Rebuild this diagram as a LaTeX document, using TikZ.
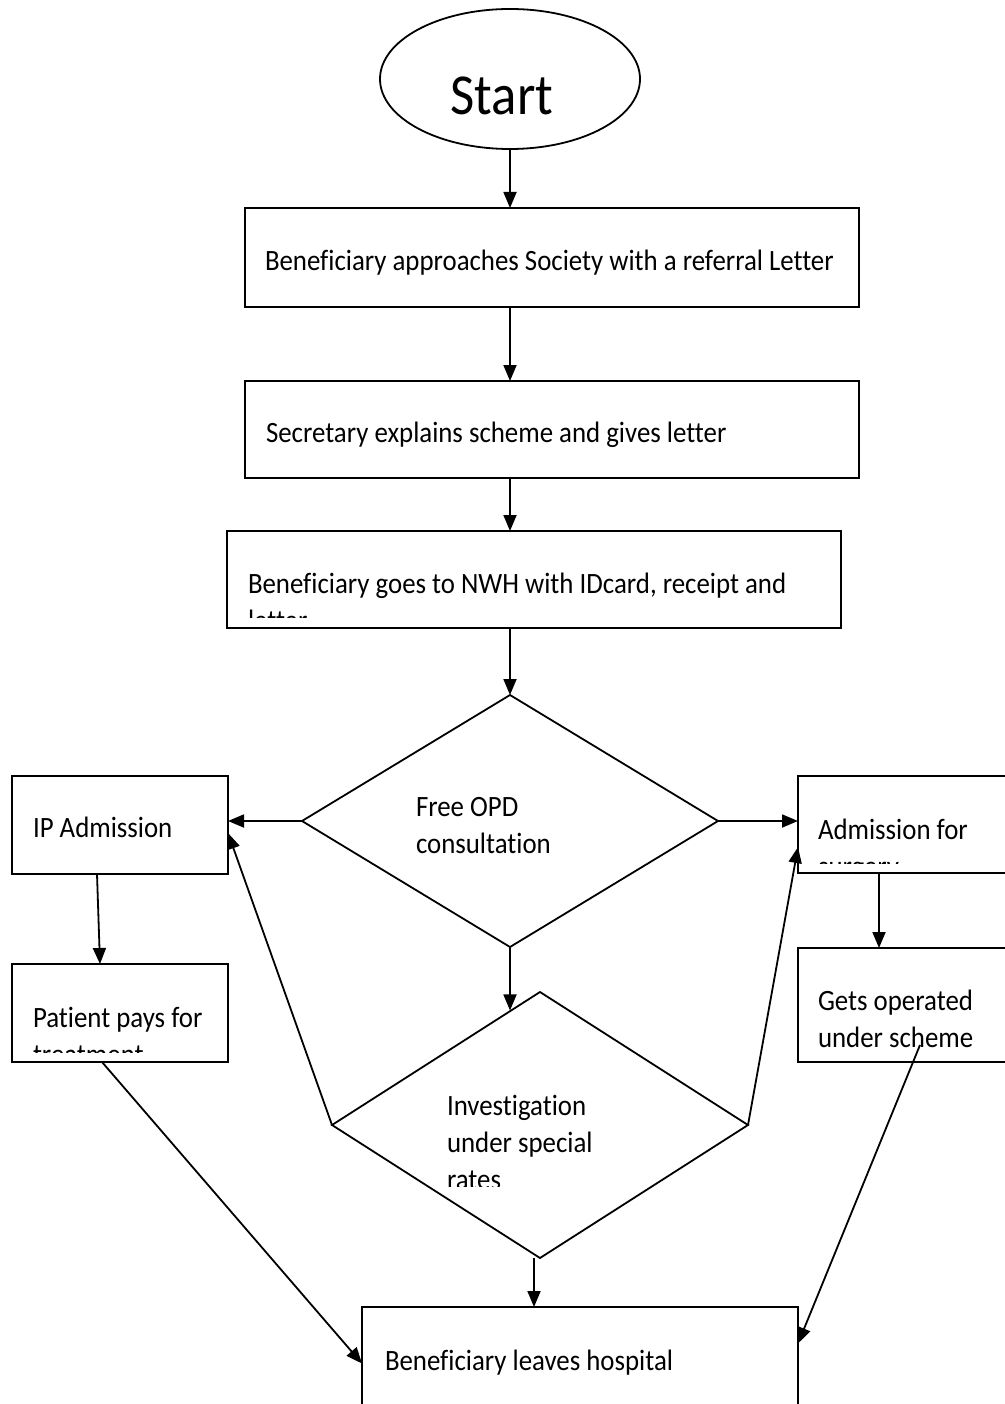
\documentclass[tikz,border=0pt]{standalone}
\usepackage{fontspec}
\setmainfont{Carlito}[FakeStretch=0.91, Ligatures=NoCommon]
\usetikzlibrary{shapes.geometric,arrows.meta,calc}
\begin{document}
\begin{tikzpicture}[x=1pt,y=-1pt,
  every node/.style={inner sep=0pt, outer sep=0pt},
  shapeline/.style={draw, line width=1.8pt},
  box/.style={shapeline, rectangle},
  lbl/.style={anchor=base west, font=\fontsize{29.5}{37}\selectfont},
  arr/.style={line width=1.8pt, -{Triangle[length=16pt,width=13pt]}},
  con/.style={line width=1.8pt}]
\useasboundingbox[fill=white] (0,0) rectangle (1004,1404);

% shapes
\node[shapeline, ellipse, minimum width=260pt, minimum height=140pt] (start) at (510,79) {};
\node[anchor=base, font=\fontsize{58}{70}\selectfont] (starttxt) at (502,115) {Start};

\node[box, minimum width=614pt, minimum height=99pt] (b1) at (552,257.5) {};
\node[box, minimum width=614pt, minimum height=97pt] (b2) at (552,429.5) {};
\node[box, minimum width=614pt, minimum height=97pt] (b3) at (534,579.5) {};

\node[shapeline, diamond, minimum width=416pt, minimum height=252pt] (d1) at (510,821) {};
\node[shapeline, diamond, minimum width=416pt, minimum height=266pt] (d2) at (540,1125) {};

\node[box, minimum width=216pt, minimum height=98pt] (ip) at (120,825) {};
\node[box, minimum width=216pt, minimum height=98pt] (pay) at (120,1013) {};
\node[box, minimum width=212pt, minimum height=97pt] (adm) at (904,824.5) {};
\node[box, minimum width=212pt, minimum height=114pt] (ops) at (904,1005) {};
\node[box, minimum width=436pt, minimum height=113pt] (fin) at (580,1363.5) {};

% texts
\node[lbl] (t1) at (265,271) {Beneficiary approaches Society with a referral Letter};
\node[lbl] (t2) at (266,442) {Secretary explains scheme and gives letter};
\begin{scope}
  \clip (b3.north west) rectangle ([yshift=11pt]b3.south east);
  \node[lbl] (t3a) at (248,593) {Beneficiary goes to NWH with IDcard, receipt and};
  \node[lbl] (t3b) at (248,630) {letter};
\end{scope}
\node[lbl] (t4a) at (416,816) {Free OPD};
\node[lbl] (t4b) at (416,853) {consultation};
\node[lbl] (t5) at (33,837) {IP Admission};
\begin{scope}
  \clip (adm.north west) rectangle ([yshift=10pt]adm.south east);
  \node[lbl] (t6a) at (818,839) {Admission for};
  \node[lbl] (t6b) at (818,876) {surgery};
\end{scope}
\begin{scope}
  \clip (pay.north west) rectangle ([yshift=10pt]pay.south east);
  \node[lbl] (t7a) at (33,1027) {Patient pays for};
  \node[lbl] (t7b) at (33,1064) {treatment};
\end{scope}
\node[lbl] (t8a) at (818,1010) {Gets operated};
\node[lbl] (t8b) at (818,1047) {under scheme};
\begin{scope}
  \clip (420,1080) rectangle (720,1186);
  \node[lbl] (t9a) at (447,1115) {Investigation};
  \node[lbl] (t9b) at (447,1152) {under special};
  \node[lbl] (t9c) at (447,1189) {rates};
\end{scope}
\node[lbl] (t10) at (385,1370) {Beneficiary leaves hospital};

% connectors
\coordinate (d2tip) at ($(d2.north)!0.139!(d2.west)$);
\draw[arr] (start.south) -- (start.south |- b1.north);
\draw[arr] (start.south |- b1.south) -- (start.south |- b2.north);
\draw[arr] (start.south |- b2.south) -- (start.south |- b3.north);
\draw[arr] (d1.north |- b3.south) -- (d1.north);
\draw[arr] (d1.west) -- ([yshift=4pt]ip.east);
\draw[arr] (d1.east) -- ([yshift=3.5pt]adm.west);
\draw[arr] (d1.south) -- (d1.south |- d2tip);
\draw[arr] ([xshift=-23pt]ip.south) -- ([xshift=-20pt]pay.north);
\draw[arr] ([xshift=-25pt]adm.south) -- ([xshift=-25pt]adm.south |- ops.north);
\draw[arr] (d2.west) -- ([yshift=-8pt]ip.east);
\draw[arr] (d2.east) -- ([yshift=-22.5pt]adm.west);
\draw[arr] ([xshift=-6pt]d2.south) -- ([xshift=-6pt]d2.south |- fin.north);
\draw[arr] ([xshift=-18pt]pay.south) -- (fin.west);
\draw[arr] ([xshift=16pt,yshift=-40pt]ops.center) -- ([yshift=20pt]fin.east);
\end{tikzpicture}
\end{document}
